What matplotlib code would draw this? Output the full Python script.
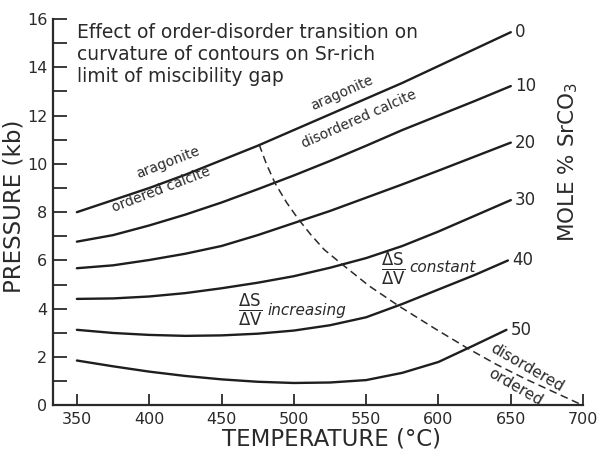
import matplotlib
matplotlib.use("Agg")
import matplotlib.pyplot as plt

# ---- data ----
temps = [350, 375, 400, 425, 450, 475, 500, 525, 550, 575, 600, 625, 650]
temps_40 = [350, 375, 400, 425, 450, 475, 500, 525, 550, 575, 600, 625, 648]
temps_50 = [350, 375, 400, 425, 450, 475, 500, 525, 550, 575, 600, 625, 647]

p_0 = [8.0, 8.5, 9.0, 9.55, 10.15, 10.75, 11.4, 12.05, 12.7, 13.35, 14.05, 14.75, 15.45]
p_10 = [6.78, 7.05, 7.45, 7.9, 8.4, 8.95, 9.52, 10.12, 10.75, 11.4, 12.0, 12.6, 13.22]
p_20 = [5.68, 5.8, 6.02, 6.28, 6.6, 7.05, 7.55, 8.05, 8.6, 9.15, 9.72, 10.3, 10.88]
p_30 = [4.41, 4.43, 4.51, 4.65, 4.85, 5.08, 5.35, 5.7, 6.1, 6.6, 7.2, 7.85, 8.5]
p_40 = [3.13, 3.0, 2.92, 2.88, 2.9, 2.97, 3.1, 3.32, 3.65, 4.2, 4.8, 5.4, 6.0]
p_50 = [1.86, 1.62, 1.40, 1.22, 1.08, 0.98, 0.93, 0.95, 1.05, 1.35, 1.8, 2.5, 3.13]

contour_labels = ["0", "10", "20", "30", "40", "50"]

# order-disorder transition (dashed)
trans_t = [476, 481, 487, 495, 503, 512, 521, 533, 552, 573, 597, 620, 640, 660, 680, 700]
trans_p = [10.8, 10.0, 9.2, 8.4, 7.72, 7.05, 6.45, 5.86, 4.95, 4.1, 3.2, 2.37, 1.7, 1.1, 0.55, 0.0]

xticks = [350, 400, 450, 500, 550, 600, 650, 700]
yticks = [0, 2, 4, 6, 8, 10, 12, 14, 16]

INK = "#2a2a2a"
FRAC = r"$\frac{\mathsf{\Delta S}}{\mathsf{\Delta V}}$"

# ---- figure ----
fig = plt.figure(figsize=(5.99, 4.5), dpi=100)
ax = fig.add_axes([0.0885, 0.099, 0.885, 0.859])

series = [(temps, p_0), (temps, p_10), (temps, p_20),
          (temps, p_30), (temps_40, p_40), (temps_50, p_50)]
for (t, p), lab in zip(series, contour_labels):
    ax.plot(t, p, color="#1e1e1e", lw=1.7, solid_capstyle="round")
    ax.text(t[-1] + 3, p[-1], lab, fontsize=12, ha="left", va="center",
            color=INK)

ax.plot(trans_t, trans_p, color=INK, lw=1.1, linestyle=(0, (5, 3)))

ax.set_xlim(333.5, 700)
ax.set_ylim(0, 16)
ax.set_xticks(xticks)
ax.set_yticks(yticks)
ax.set_yticks(range(1, 16, 2), minor=True)
ax.xaxis.set_tick_params(which="both", direction="in", length=8, width=1.3,
                         labelsize=11.5, colors=INK, pad=5)
ax.yaxis.set_tick_params(which="both", direction="in", length=10, width=1.3,
                         labelsize=11.5, colors=INK, pad=4)
for s in ["top", "right"]:
    ax.spines[s].set_visible(False)
for s in ["left", "bottom"]:
    ax.spines[s].set_linewidth(1.6)
    ax.spines[s].set_color(INK)

ax.set_xlabel("TEMPERATURE (°C)", fontsize=16.5, color=INK)
ax.xaxis.set_label_coords(0.5245, -0.058)
ax.set_ylabel("PRESSURE (kb)", fontsize=16.5, color=INK)
ax.yaxis.set_label_coords(-0.052, 0.516)

fig.text(0.948, 0.64, "MOLE % SrCO$_3$", rotation=90, fontsize=15.5,
         ha="center", va="center", color=INK)

fig.text(0.128, 0.95,
         "Effect of order-disorder transition on\n"
         "curvature of contours on Sr-rich\n"
         "limit of miscibility gap",
         fontsize=13.5, ha="left", va="top", color=INK, linespacing=1.22)

# in-plot annotations
ax.text(413, 10.05, "aragonite", rotation=21, fontsize=10, ha="center",
        va="center", color=INK)
ax.text(408, 8.95, "ordered calcite", rotation=21, fontsize=10, ha="center",
        va="center", color=INK)
ax.text(533, 12.95, "aragonite", rotation=24, fontsize=10, ha="center",
        va="center", color=INK)
ax.text(545, 11.85, "disordered calcite", rotation=24, fontsize=10,
        ha="center", va="center", color=INK)

ax.text(470, 3.95, FRAC, fontsize=17, ha="center", va="center", color=INK)
ax.text(482, 3.95, "increasing", fontsize=11, style="italic", ha="left",
        va="center", color=INK)
ax.text(569, 5.65, FRAC, fontsize=17, ha="center", va="center", color=INK)
ax.text(580, 5.72, "constant", fontsize=11, style="italic", ha="left",
        va="center", color=INK)

ax.text(661, 1.55, "disordered", rotation=-30, fontsize=11, ha="center",
        va="center", color=INK)
ax.text(653, 0.77, "ordered", rotation=-30, fontsize=11, ha="center",
        va="center", color=INK)

fig.savefig("out.png", dpi=100)
